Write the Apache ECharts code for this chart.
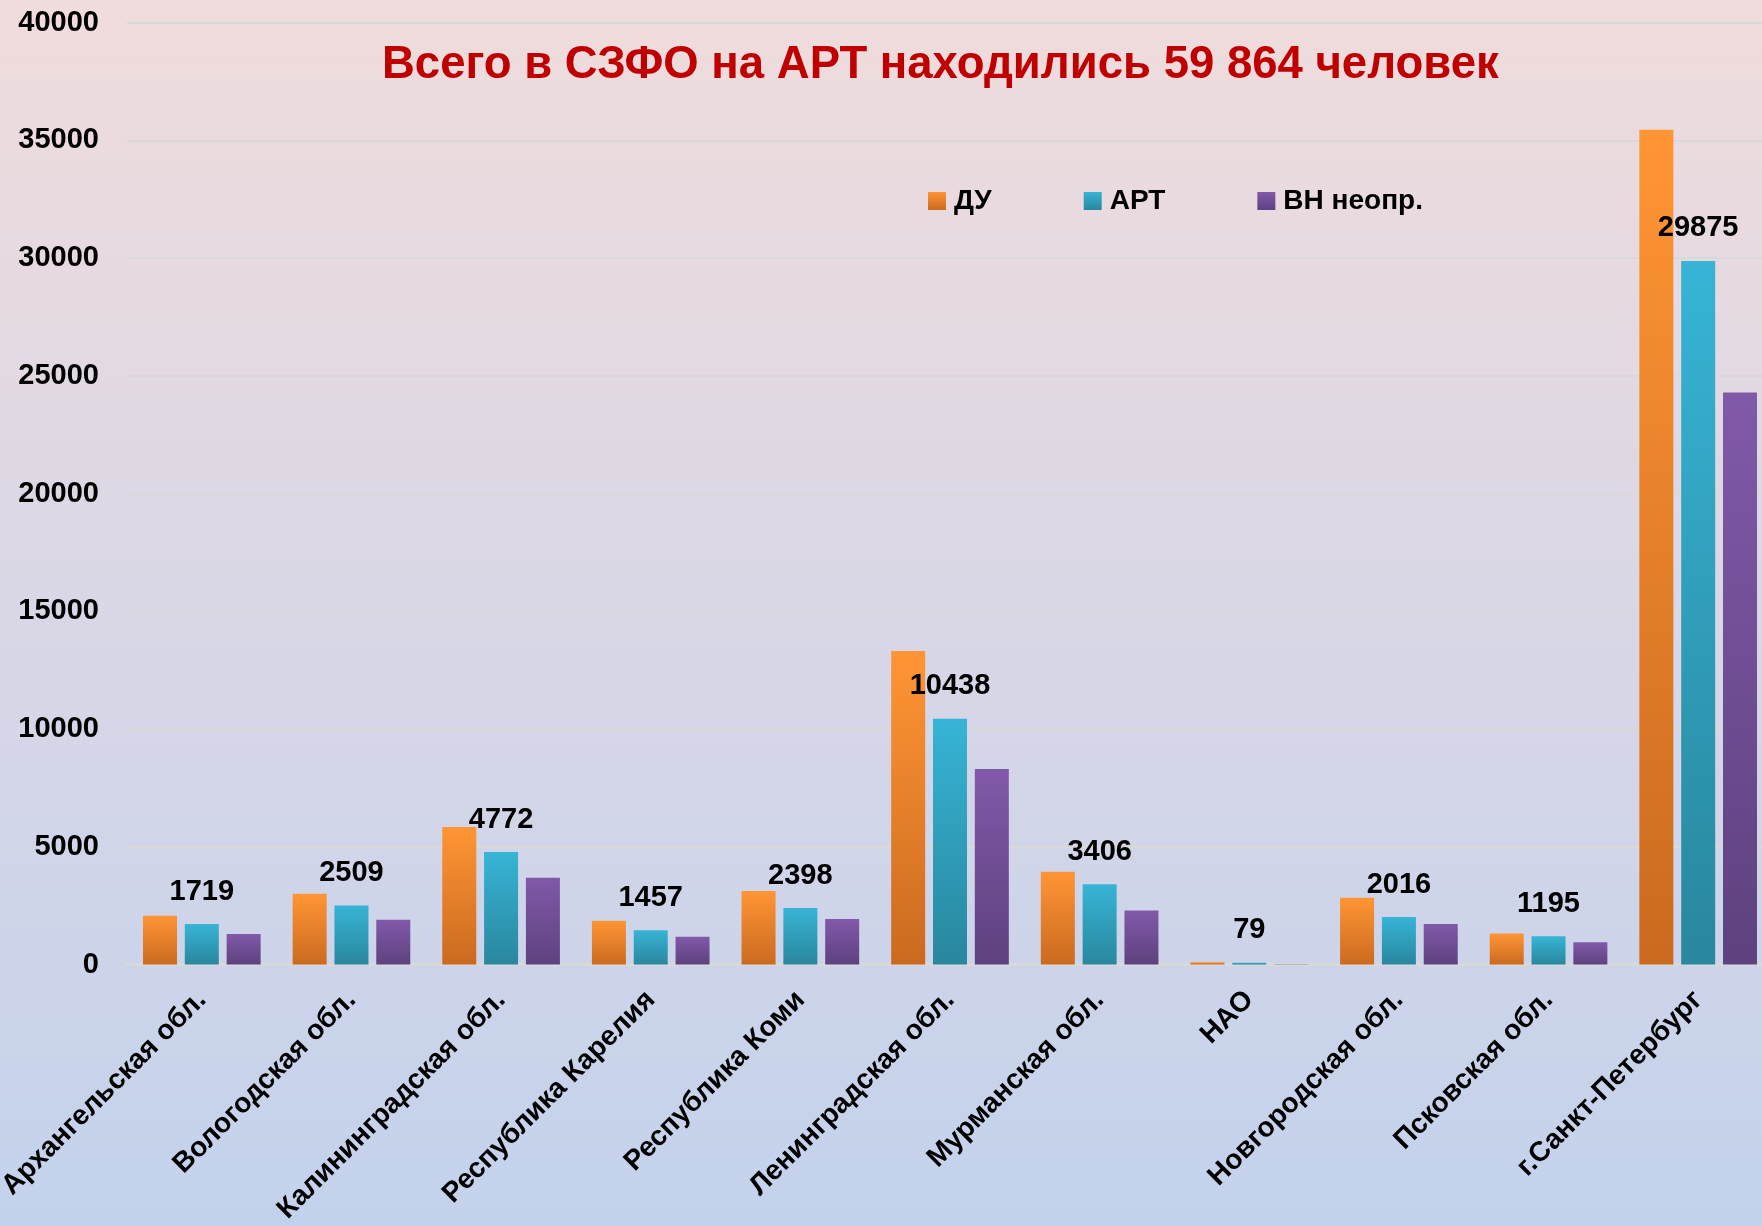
<!DOCTYPE html>
<html>
<head>
<meta charset="utf-8">
<script src="https://cdn.jsdelivr.net/npm/echarts@6/dist/echarts.min.js"></script>
<style>
html, body { margin: 0; padding: 0; }
#main { width: 1762px; height: 1226px; }
</style>
</head>
<body>
<div id="main"></div>
<script>
var chartDom = document.getElementById('main');
var myChart = echarts.init(chartDom);
var option;

// данные по регионам СЗФО
var regions = ['Архангельская обл.', 'Вологодская обл.', 'Калининградская обл.', 'Республика Карелия',
    'Республика Коми', 'Ленинградская обл.', 'Мурманская обл.', 'НАО', 'Новгородская обл.',
    'Псковская обл.', 'г.Санкт-Петербург'];
var seriesNames = ['ДУ', 'АРТ', 'ВН неопр.'];
var duValues = [2070, 3000, 5840, 1860, 3120, 13310, 3940, 95, 2830, 1320, 35450];
var artValues = [1719, 2509, 4772, 1457, 2398, 10438, 3406, 79, 2016, 1195, 29875];
var vnValues = [1300, 1900, 3680, 1180, 1930, 8300, 2290, 15, 1720, 940, 24290];
var yTicks = [0, 40000, 5000]; // min, max, шаг

var fontName = "'Liberation Sans', Arial, sans-serif";

// градиент столбика сверху вниз
function grad(top, bottom) {
    return new echarts.graphic.LinearGradient(0, 0, 0, 1, [
        {offset: 0, color: top},
        {offset: 1, color: bottom}
    ]);
}

option = {
    backgroundColor: new echarts.graphic.LinearGradient(0, 0, 0, 1, [
        {offset: 0, color: '#F0DCDC'},
        {offset: 0.5, color: '#D9D7E6'},
        {offset: 1, color: '#C3D2EC'}
    ]),
    title: {
        text: 'Всего в СЗФО на АРТ находились 59 864 человек',
        left: 377,
        top: 37,
        textStyle: {
            color: '#C00000',
            fontSize: 45.5,
            fontWeight: 'bold',
            fontFamily: fontName
        }
    },
    legend: {
        left: 923,
        top: 182,
        icon: 'rect',
        itemWidth: 18,
        itemHeight: 18,
        itemGap: 92,
        textStyle: {
            color: '#000',
            fontSize: 28,
            fontWeight: 'bold',
            fontFamily: fontName,
            padding: [0, 0, 0, 3]
        }
    },
    grid: {
        left: 127,
        top: 22.5,
        width: 1646,
        bottom: 261.5,
        containLabel: false,
        outerBoundsMode: 'none'
    },
    xAxis: {
        type: 'category',
        data: regions,
        axisTick: {show: false},
        axisLine: {lineStyle: {color: '#D9D9D9', width: 3}},
        axisLabel: {
            interval: 0,
            rotate: 45,
            margin: 31,
            color: '#000',
            fontSize: 28,
            fontWeight: 'bold',
            fontFamily: fontName
        }
    },
    yAxis: {
        type: 'value',
        min: yTicks[0],
        max: yTicks[1],
        interval: yTicks[2],
        axisLine: {show: false},
        axisTick: {show: false},
        splitLine: {lineStyle: {color: '#D9D9D9', width: 2}},
        axisLabel: {
            margin: 28,
            color: '#000',
            fontSize: 29,
            fontWeight: 'bold',
            fontFamily: fontName,
            formatter: function (v) { return String(v); }
        }
    },
    series: [
        {
            name: seriesNames[0],
            type: 'bar',
            data: duValues,
            barWidth: 34,
            barGap: '23%',
            itemStyle: {color: grad('#FF9535', '#CB6A1F')}
        },
        {
            name: seriesNames[1],
            type: 'bar',
            data: artValues,
            barWidth: 34,
            barGap: '23%',
            itemStyle: {color: grad('#37B4D6', '#29879E')},
            label: {
                show: true,
                position: 'top',
                distance: 18,
                color: '#000',
                fontSize: 29,
                fontWeight: 'bold',
                fontFamily: fontName
            }
        },
        {
            name: seriesNames[2],
            type: 'bar',
            data: vnValues,
            barWidth: 34,
            barGap: '23%',
            itemStyle: {color: grad('#8159A9', '#5E417E')}
        }
    ]
};

myChart.setOption(option);
</script>
</body>
</html>
